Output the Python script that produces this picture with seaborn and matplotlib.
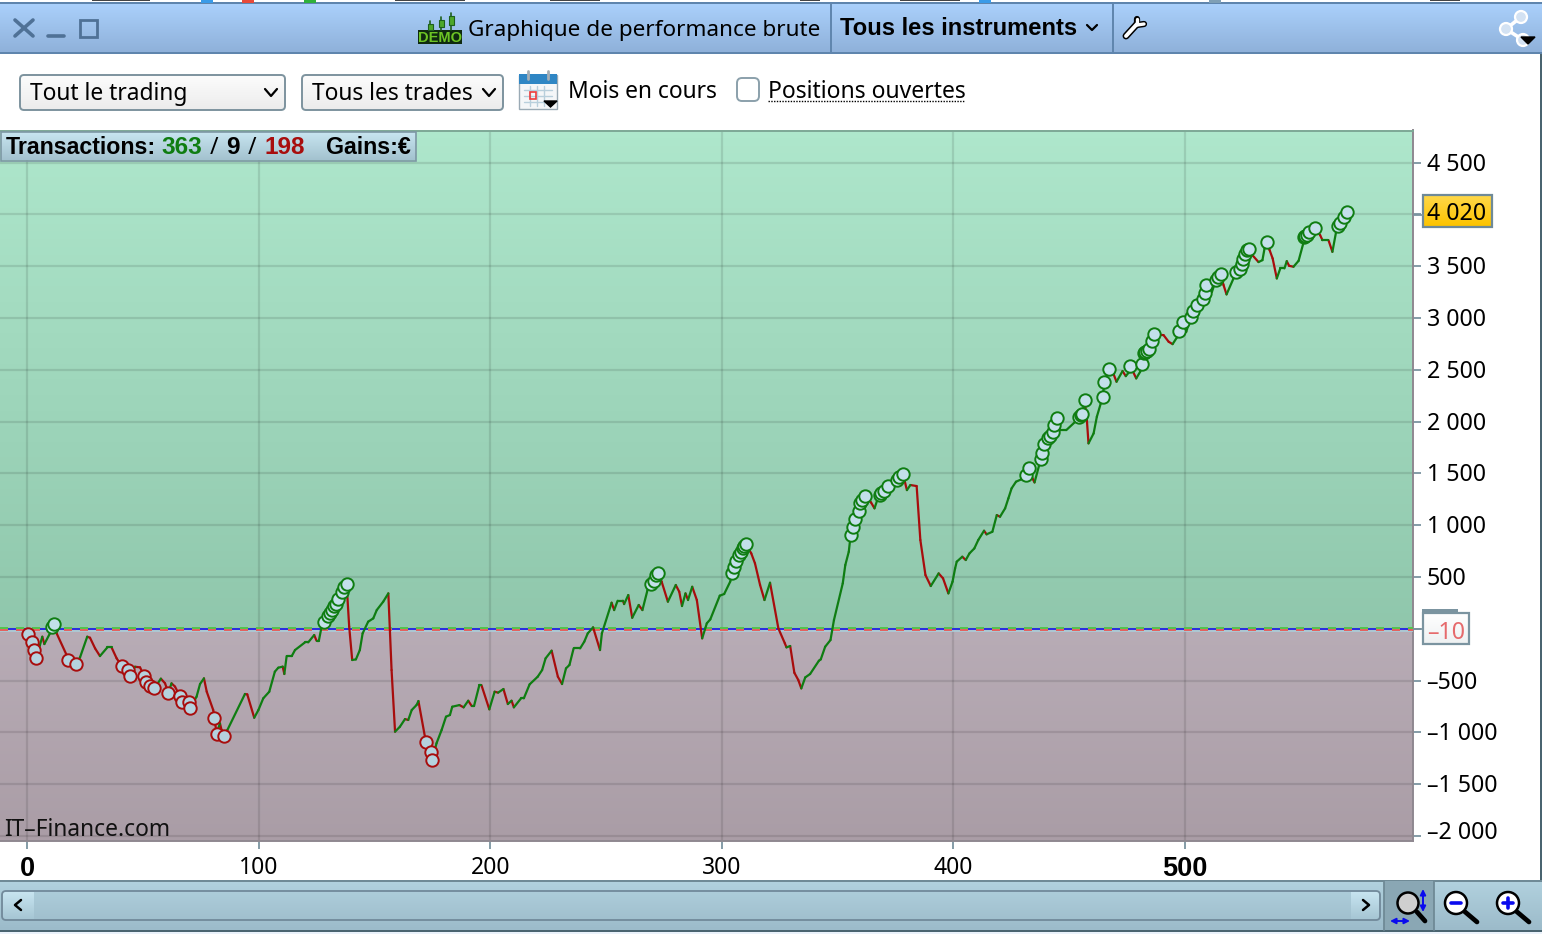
import numpy as np
import pandas as pd
import matplotlib
matplotlib.use("Agg")
import matplotlib.pyplot as plt
import seaborn as sns
from matplotlib.patches import Rectangle, FancyBboxPatch, Circle
from matplotlib.transforms import ScaledTranslation

# courbe de gains
trade_no = [
    0, 0.6, 2.3, 3.2, 4.0, 5.6, 6.6, 7.5, 9.9, 10.6, 11.6, 12.8, 17.1, 17.8, 21.3, 22.9, 26.0, 27.2, 29.4, 31.5,
    34.7, 36.5, 38.7, 41.0, 43.7, 44.6, 46.6, 48.8, 50.6, 51.2, 53.1, 55.0, 57.8, 59.6, 61.0, 62.4, 63.9, 66.0, 66.8, 69.8,
    70.5, 73.2, 74.7, 76.4, 77.6, 80.4, 80.9, 81.9, 83.3, 84.0, 85.2, 86.5, 94.1, 95.1, 98.1, 99.9, 102.0, 104.6, 107.0, 108.5,
    110.4, 111.1, 112.1, 114.3, 115.7, 120.0, 121.4, 124.0, 125.0, 126.0, 127.2, 128.4, 129.8, 130.8, 131.8, 132.7, 133.4, 134.4, 135.8, 136.8,
    138.0, 139.1, 140.4, 142.0, 143.7, 144.9, 147.3, 149.5, 151.0, 153.8, 156.0, 157.4, 158.9, 161.0, 163.2, 164.6, 166.1, 168.2, 169.0, 171.8,
    172.4, 174.3, 175.0, 176.8, 179.0, 180.9, 182.6, 183.6, 186.7, 188.5, 190.5, 192.0, 193.0, 195.3, 196.2, 199.6, 201.9, 203.4, 205.7, 207.6,
    209.2, 210.2, 213.3, 214.5, 217.0, 220.5, 222.4, 223.9, 226.5, 229.2, 231.0, 232.7, 234.2, 236.0, 238.8, 240.6, 242.1, 244.4, 247.4, 248.2,
    252.4, 253.5, 255.0, 257.3, 257.8, 259.6, 261.3, 264.1, 265.7, 267.9, 269.5, 270.5, 271.7, 272.5, 274.0, 276.7, 280.1, 281.6, 282.8, 284.3,
    285.4, 287.2, 289.2, 291.5, 293.5, 295.0, 299.1, 301.0, 303.6, 304.4, 305.2, 305.9, 307.4, 308.2, 309.0, 309.7, 310.5, 312.7, 314.3, 316.5,
    318.4, 320.8, 324.4, 327.2, 327.9, 329.5, 331.3, 333.0, 334.3, 336.0, 338.1, 341.9, 342.7, 344.6, 346.9, 348.4, 352.2, 353.3, 354.8, 355.6,
    356.5, 357.4, 359.1, 359.8, 360.6, 361.7, 364.4, 365.9, 367.1, 368.2, 368.9, 370.0, 371.7, 375.5, 376.5, 378.2, 379.9, 381.4, 384.1, 385.7,
    387.9, 390.2, 393.6, 395.5, 397.8, 399.6, 400.7, 401.4, 403.8, 405.3, 406.9, 409.0, 410.7, 413.2, 414.3, 416.8, 418.7, 420.1, 422.3, 423.7,
    425.1, 427.0, 429.2, 431.4, 432.4, 434.1, 435.0, 437.0, 437.6, 438.3, 439.3, 440.8, 441.5, 442.8, 443.6, 444.5, 446.1, 448.7, 452.6, 454.4,
    455.2, 455.7, 456.6, 457.6, 458.3, 460.5, 461.9, 463.6, 464.4, 465.2, 467.0, 469.1, 470.4, 473.0, 474.4, 475.6, 476.4, 478.9, 480.6, 481.6,
    482.1, 482.8, 483.5, 484.4, 485.8, 486.7, 490.7, 492.9, 494.6, 496.5, 497.2, 498.9, 500.5, 502.5, 503.2, 505.0, 507.7, 508.4, 509.1, 511.6,
    513.3, 514.0, 515.4, 516.6, 517.9, 520.9, 522.1, 523.8, 524.5, 525.2, 526.0, 526.7, 527.4, 529.3, 531.7, 533.4, 534.3, 535.2, 536.5, 537.8,
    539.6, 541.1, 542.9, 543.9, 544.9, 546.8, 549.0, 551.1, 551.2, 551.9, 552.6, 553.7, 556.0, 558.3, 559.3, 561.9, 563.6, 565.2, 565.9, 567.0,
    568.4, 569.8,
]
equity = [
    0, -51, -125, -202, -286, -157, -77, -148, -45, 20, 49, -45, -254, -302, -344, -276, -77, -87, -190, -264,
    -180, -180, -286, -363, -399, -460, -367, -373, -457, -511, -553, -576, -482, -527, -617, -527, -559, -650, -707, -707,
    -769, -656, -534, -479, -608, -785, -865, -1016, -913, -978, -1039, -978, -630, -634, -859, -785, -672, -608, -415, -376,
    -366, -437, -264, -264, -206, -132, -132, -61, -116, -116, 20, 61, 123, 148, 180, 219, 235, 287, 357, 399,
    428, 20, -302, -296, -206, -45, 68, 100, 180, 261, 341, -399, -994, -946, -872, -881, -785, -736, -698, -1042,
    -1097, -1190, -1270, -1106, -978, -849, -833, -753, -737, -759, -695, -746, -746, -544, -544, -778, -608, -617, -582, -727,
    -695, -759, -672, -672, -537, -463, -399, -286, -212, -463, -534, -383, -350, -190, -190, -125, -45, 13, -206, -45,
    251, 180, 270, 270, 238, 325, 106, 229, 180, 373, 428, 460, 518, 541, 454, 261, 422, 357, 219, 341,
    277, 405, 277, -93, 52, 90, 319, 335, 454, 537, 592, 653, 711, 743, 775, 801, 814, 727, 631, 422,
    277, 444, 3, -141, -180, -167, -425, -495, -576, -470, -437, -309, -296, -174, -109, 84, 438, 615, 743, 904,
    985, 1059, 1139, 1210, 1242, 1281, 1219, 1162, 1242, 1290, 1306, 1332, 1377, 1435, 1461, 1493, 1338, 1387, 1377, 856,
    518, 412, 534, 486, 341, 454, 582, 647, 695, 663, 727, 775, 856, 946, 911, 936, 1097, 1081, 1162, 1258,
    1355, 1419, 1441, 1483, 1554, 1451, 1412, 1579, 1641, 1698, 1779, 1837, 1863, 1895, 1965, 2030, 1917, 1917, 1998, 2046,
    2059, 2068, 2204, 2014, 1789, 1885, 2046, 2175, 2239, 2377, 2509, 2458, 2384, 2487, 2438, 2471, 2535, 2416, 2480, 2551,
    2657, 2667, 2683, 2702, 2776, 2841, 2834, 2770, 2747, 2812, 2876, 2956, 2866, 3011, 3069, 3127, 3185, 3239, 3320, 3252,
    3365, 3391, 3420, 3317, 3227, 3381, 3439, 3471, 3519, 3564, 3616, 3654, 3670, 3600, 3539, 3558, 3670, 3728, 3654, 3574,
    3381, 3478, 3478, 3548, 3503, 3494, 3551, 3725, 3783, 3790, 3796, 3825, 3864, 3799, 3751, 3751, 3638, 3831, 3886, 3918,
    3970, 4021,
]

# ronds rouges / verts
lo_no = [0.6, 2.3, 3.2, 4.0, 17.8, 21.3, 41.0, 43.7, 44.6, 50.6, 51.2, 53.1, 55.0, 61.0, 66.0, 66.8, 69.8, 70.5,
         80.9, 81.9, 85.2, 172.4, 174.3, 175.0]
lo_eq = [-51, -125, -202, -286, -302, -344, -363, -399, -460, -457, -511, -553, -576, -617, -650, -707, -707, -769,
         -865, -1016, -1039, -1097, -1190, -1270]
hi_no = [10.6, 11.6, 128.4, 129.8, 130.8, 131.8, 132.7, 133.4, 134.4, 135.8, 136.8, 138.0,
         269.5, 270.5, 271.7, 272.5, 304.4, 305.2, 305.9, 307.4, 308.2, 309.0, 309.7, 310.5,
         355.6, 356.5, 357.4, 359.1, 359.8, 360.6, 361.7, 368.2, 368.9, 370.0, 371.7, 375.5, 376.5, 378.2,
         431.4, 432.4, 437.6, 438.3, 439.3, 440.8, 441.5, 442.8, 443.6, 444.5, 454.4, 455.2, 455.7, 456.6,
         464.4, 465.2, 467.0, 476.4, 481.6, 482.1, 482.8, 483.5, 484.4, 485.8, 486.7, 497.2, 498.9,
         502.5, 503.2, 505.0, 507.7, 508.4, 509.1, 513.3, 514.0, 515.4, 522.1, 523.8, 524.5, 525.2, 526.0, 526.7, 527.4,
         535.2, 551.2, 551.9, 552.6, 553.7, 556.0, 565.9, 567.0, 568.4, 569.8]
hi_eq = [20, 49, 61, 123, 148, 180, 219, 235, 287, 357, 399, 428,
         428, 460, 518, 541, 537, 592, 653, 711, 743, 775, 801, 814,
         904, 985, 1059, 1139, 1210, 1242, 1281, 1290, 1306, 1332, 1377, 1435, 1461, 1493,
         1483, 1554, 1641, 1698, 1779, 1837, 1863, 1895, 1965, 2030, 2046, 2059, 2068, 2204,
         2239, 2377, 2509, 2535, 2551, 2657, 2667, 2683, 2702, 2776, 2841, 2876, 2956,
         3011, 3069, 3127, 3185, 3239, 3320, 3365, 3391, 3420, 3439, 3471, 3519, 3564, 3616, 3654, 3670,
         3728, 3783, 3790, 3796, 3825, 3864, 3886, 3918, 3970, 4021]

x_ticks = [0, 100, 200, 300, 400, 500]
y_ticks = [4500, 4000, 3500, 3000, 2500, 2000, 1500, 1000, 500, 0, -500, -1000, -1500, -2000]
y_labels = ["4 500", "", "3 500", "3 000", "2 500", "2 000", "1 500", "1 000", "500", "",
            "–500", "–1 000", "–1 500", "–2 000"]
last_gain = "4 020"
start_gain = "–10"

W, H = 1542, 934
GREEN = "#0f7d12"
RED = "#a80d0d"
FONT = "Noto Sans"
BOLD = "Liberation Sans"
FS = 16.5

sns.set_theme(style="white")
plt.rcParams["font.family"] = [FONT, "DejaVu Sans"]

fig = plt.figure(figsize=(W / 100, H / 100), dpi=100, facecolor="white")

# --- graphique ---
ax = fig.add_axes([0, 1 - 841 / H, 1413 / W, (841 - 130.5) / H])
xlim = (-11.66, 598.4)
ylim = (-2049, 4809)


def grad(c1, c2, n=64):
    a = np.array(matplotlib.colors.to_rgb(c1))
    b = np.array(matplotlib.colors.to_rgb(c2))
    return np.linspace(a, b, n)[:, None, :]


ax.imshow(grad("#aee7cc", "#90c7ac"), extent=(xlim[0], xlim[1], 0, ylim[1]), aspect="auto", zorder=0)
ax.imshow(grad("#b8acb6", "#aa9da6"), extent=(xlim[0], xlim[1], ylim[0], 0), aspect="auto", zorder=0)

segments = []
for i in range(len(trade_no) - 1):
    sens = "up" if equity[i + 1] >= equity[i] else "down"
    segments.append((i, sens, trade_no[i], equity[i]))
    segments.append((i, sens, trade_no[i + 1], equity[i + 1]))
df = pd.DataFrame(segments, columns=["segment", "sens", "trade", "gain"])

sns.lineplot(data=df, x="trade", y="gain", hue="sens", units="segment", estimator=None, sort=False,
             palette={"up": GREEN, "down": RED}, linewidth=1.6, legend=False, ax=ax, zorder=4)

# ligne de depart : tirets bleus, verts et rouges alternes
ax.axhline(-24, color="#a9cfdc", lw=1.1, zorder=3)
ax.axhline(-3, color="#2a2ee0", lw=1.44, ls=(4, (4, 4)), zorder=3)
ax.axhline(7, color="#55c24d", lw=1.44, ls=(0, (4, 4)), zorder=3)
ax.axhline(-13, color="#e2615f", lw=1.44, ls=(0, (4, 4)), zorder=3)

sns.scatterplot(x=lo_no, y=lo_eq, s=80, color="#b5d2de", edgecolor=RED, linewidth=1.4, ax=ax, zorder=5, legend=False)
sns.scatterplot(x=hi_no, y=hi_eq, s=80, color="#c3e0ea", edgecolor=GREEN, linewidth=1.4, ax=ax, zorder=5, legend=False)

ax.set_xlim(xlim)
ax.set_ylim(ylim)
ax.set_xlabel("")
ax.set_ylabel("")
ax.set_xticks(x_ticks)
ax.set_xticklabels([str(v) for v in x_ticks], fontsize=FS)
ax.yaxis.tick_right()
ax.set_yticks(y_ticks)
ax.set_yticklabels(y_labels, fontsize=16.7)
ax.tick_params(axis="both", length=5.5, width=1.3, color="#7b94a0", pad=4.3, labelcolor="black",
               bottom=True, right=True, left=False)
ax.tick_params(axis="x", pad=5.6)
for lbl in ax.get_xticklabels():
    if lbl.get_text() in ("0", "500"):
        lbl.set_fontfamily(BOLD)
        lbl.set_fontweight("bold")
        lbl.set_fontsize(19.5)
# etiquettes un peu remontees, la derniere surtout
for lbl in ax.get_yticklabels():
    up = 6 if lbl.get_text() == "–2 000" else 1
    lbl.set_transform(lbl.get_transform() + ScaledTranslation(0, up / 100, fig.dpi_scale_trans))
ax.grid(True, color="black", alpha=0.105, lw=1.6)
ax.set_axisbelow(True)
for name, sp in ax.spines.items():
    sp.set_visible(name in ("top", "right", "bottom"))
    sp.set_linewidth(1.4)
    sp.set_color("#7da896" if name == "top" else "#8f8890")

ax.text(4 / 1413, 10.5 / 710.5, "IT–Finance.com", transform=ax.transAxes, fontsize=16.4, color="#111111",
        ha="left", va="center", zorder=6)

# --- habillage de la fenetre, en coordonnees pixels ---
ui = fig.add_axes([0, 0, 1, 1], zorder=10)
ui.set_xlim(0, W)
ui.set_ylim(H, 0)
ui.axis("off")
ui.patch.set_alpha(0)


def band(x0, y0, x1, y1, c1, c2):
    ui.imshow(grad(c1, c2), extent=(x0, x1, y1, y0), aspect="auto", zorder=1)


def seg(xs, ys, c="black", lw=1.5, z=4):
    ui.plot(xs, ys, color=c, lw=lw, solid_capstyle="round", solid_joinstyle="round", zorder=z)


def box(x0, y0, x1, y1, fc, ec, lw=1.4, r=4, z=3):
    ui.add_patch(FancyBboxPatch((x0 + r, y0 + r), x1 - x0 - 2 * r, y1 - y0 - 2 * r,
                                boxstyle=f"round,pad={r},rounding_size={r}", fc=fc, ec=ec, lw=lw, zorder=z))


def txt(x, y, s, size=FS, color="black"):
    ui.text(x, y + 4.5, s, fontsize=size, color=color, ha="left", va="center", zorder=5)


def btxt(x, y, s, size=17.1, color="black"):
    ui.text(x, y, s, fontsize=size, color=color, fontweight="bold", family=BOLD, ha="left", va="center", zorder=5)


# bandeau du haut
band(0, 4, W, 52, "#aad0fb", "#8fb1da")
ui.add_patch(Rectangle((0, 2), W, 2, fc="#5f85ad", ec="none", zorder=2))
ui.add_patch(Rectangle((0, 51.5), W, 2, fc="#5f85ad", ec="none", zorder=2))
for xp, col in [(207, "#3a9be8"), (248, "#e84a3a"), (310, "#2fb13a"), (985, "#3a9be8"), (1215, "#7f9fb5")]:
    ui.add_patch(Rectangle((xp - 6, 0), 12, 2.5, fc=col, ec="none", zorder=2))
for x0, x1 in [(92, 150), (395, 465), (550, 600), (800, 820), (900, 960), (1430, 1460)]:
    ui.add_patch(Rectangle((x0, 0), x1 - x0, 1.2, fc="#444444", ec="none", zorder=2))
for xp in (831, 1113):
    seg([xp, xp], [4, 52], "#5f85ad", 1.4)

seg([15, 33], [20, 36], "#4f7196", 2.6)
seg([15, 33], [36, 20], "#4f7196", 2.6)
seg([48, 64], [36, 36], "#4f7196", 2.6)
ui.add_patch(Rectangle((80, 20), 17, 17, fc="none", ec="#4f7196", lw=2, zorder=4))

# logo DEMO
ui.add_patch(Rectangle((418, 30), 44, 14, fc="#0f2a0f", ec="none", zorder=4))
ui.text(440, 37.5, "DEMO", fontsize=10.5, color="#6cc424", fontweight="bold", family=BOLD, ha="center", va="center", zorder=5)
for xp, y0, y1, by0, by1 in [(430, 21, 30, 24, 30), (441, 17, 30, 20, 27), (451, 13, 30, 16, 25)]:
    seg([xp, xp], [y0, y1], "#1d5f1d", 1.2)
    ui.add_patch(Rectangle((xp - 2.5, by0), 5, by1 - by0, fc="#4da82a", ec="#1d5f1d", lw=0.8, zorder=5))

txt(468, 26, "Graphique de performance brute", 16.2)
btxt(840, 28.5, "Tous les instruments")
seg([1087, 1092, 1097], [25, 30, 25], "black", 1.6)

# cle
seg([1126, 1137], [36, 24], "black", 5)
seg([1137, 1137], [24, 19], "black", 4.5)
seg([1137, 1144], [25, 24], "black", 4.5)
seg([1126, 1137], [36, 24], "white", 2.8, z=5)
seg([1137, 1137], [24, 19], "white", 2.4, z=5)
seg([1137, 1144], [25, 24], "white", 2.4, z=5)

# partage
seg([1521, 1506, 1523], [17, 29, 40], "white", 2.6)
for cx, cy in [(1521, 17), (1506, 29), (1523, 40)]:
    ui.add_patch(Circle((cx, cy), 6, fc="#d3e2f3", ec="white", lw=1.6, zorder=5))
ui.fill([1521, 1535, 1528], [37, 37, 44], color="black", zorder=6)

# ligne de controles
for x0, x1, label in [(20, 285, "Tout le trading"), (302, 503, "Tous les trades")]:
    band(x0 + 1, 76, x1 - 1, 109, "#fcfcfc", "#ececec")
    box(x0, 75, x1, 110, "none", "#7d939e", lw=1.4, z=4)
    txt(x0 + 10, 89, label, 16.4)
    seg([x1 - 20, x1 - 14, x1 - 8], [89, 96, 89], "black", 1.6)

# calendrier
ui.add_patch(Rectangle((519, 75), 38, 34, fc="#f4f6f8", ec="#9aaab5", lw=1, zorder=3))
ui.add_patch(Rectangle((519, 74), 38, 10, fc="#2f86c4", ec="none", zorder=4))
for xp in (528, 548):
    seg([xp, xp], [71, 79], "#a5adb3", 2)
for yp in (90, 96, 102):
    seg([524, 552], [yp, yp], "#b8cfdc", 1)
for xp in (530, 537, 544):
    seg([xp, xp], [86, 106], "#b8cfdc", 1)
ui.add_patch(Rectangle((530, 92), 6, 7, fc="none", ec="#ee3b3b", lw=1.2, zorder=5))
ui.fill([544, 557, 550.5], [101, 101, 107], color="black", zorder=6)

txt(568, 87, "Mois en cours", 16.4)
box(737, 78, 759, 101, "white", "#8ba0ab", lw=1.4, r=5)
txt(768, 87.5, "Positions ouvertes")
ui.plot([768, 965], [101, 101], color="black", lw=1, ls=(0, (1, 1)), zorder=5)

# bandeau Transactions
band(1, 132, 416, 160, "#c8e5f0", "#a3c2cf")
ui.add_patch(Rectangle((1, 132), 415, 29, fc="none", ec="#7d97a4", lw=1.2, zorder=3))
btxt(6, 147.5, "Transactions:", 16.7)
btxt(161, 147.5, "363", 17.6, GREEN)
txt(210, 143, "/")
btxt(226, 147.5, "9", 17.6)
txt(248, 143, "/")
btxt(265, 147.5, "198", 17.6, RED)
btxt(326, 147.5, "Gains:", 16.7)
btxt(398, 147.5, "€", 16.7)

# valeurs encadrees
band(1423, 195, 1492, 226, "#ffd84a", "#fdc400")
ui.add_patch(Rectangle((1423, 194.5), 69, 32, fc="none", ec="#6f8a98", lw=1.6, zorder=4))
txt(1427, 209.5, last_gain, 16.7)
seg([1414, 1423], [215, 215], "#7b94a0", 1.3)
ui.add_patch(Rectangle((1422, 609), 36, 4, fc="#7b94a0", ec="none", zorder=3))
band(1423, 613, 1469, 644, "#ffffff", "#eef1f2")
ui.add_patch(Rectangle((1423, 612.5), 46, 31.5, fc="none", ec="#7b94a0", lw=1.6, zorder=4))
txt(1427, 628.5, start_gain, 16.7, "#e66a6c")
seg([1414, 1423], [629, 629], "#7b94a0", 1.3)

# bas de fenetre
band(0, 881, W, 930, "#b1d1de", "#9cbbca")
ui.add_patch(Rectangle((0, 880), W, 1.8, fc="#6f8a96", ec="none", zorder=3))
ui.add_patch(Rectangle((0, 929.5), W, 2, fc="#4a6470", ec="none", zorder=3))
ui.add_patch(Rectangle((0, 931.5), W, 3, fc="#eaf2fb", ec="none", zorder=3))
ui.add_patch(Rectangle((1539.5, 54), 2.5, 826, fc="#4a6470", ec="none", zorder=3))
box(2, 891, 1380, 920, "none", "#71899a", lw=1.3)
band(3, 892, 34, 919, "#c7e4f0", "#a6c6d4")
band(1351, 892, 1379, 919, "#c7e4f0", "#a6c6d4")
seg([21, 15, 21], [900, 905, 910], "black", 1.8)
seg([1363, 1369, 1363], [900, 905, 910], "black", 1.8)
ui.add_patch(Rectangle((1384, 881), 50, 49, fc="#8aa7b4", ec="none", zorder=3))
for xp in (1384, 1434):
    seg([xp, xp], [881, 930], "#6f8a96", 1.3)

# loupes
seg([1417, 1425], [912, 921], "black", 3.4)
ui.add_patch(Circle((1408, 903), 10.5, fc="#cfcfcf", ec="black", lw=1.8, zorder=5))
for start, end in [((1423, 889), (1423, 912)), ((1390, 921), (1410, 921))]:
    ui.annotate("", xy=start, xytext=end, zorder=6,
                arrowprops=dict(arrowstyle="<|-|>", color="#0a0aee", lw=1.4, mutation_scale=8, shrinkA=0, shrinkB=0))
for cx, sign in [(1456, "-"), (1508, "+")]:
    seg([cx + 8, cx + 21], [911, 922], "black", 3.4)
    ui.add_patch(Circle((cx, 903), 11, fc="white", ec="black", lw=1.8, zorder=5))
    seg([cx - 5, cx + 5], [903, 903], "#0a0aee", 2.6, z=6)
    if sign == "+":
        seg([cx, cx], [898, 908], "#0a0aee", 2.6, z=6)

ui.set_xlim(0, W)
ui.set_ylim(H, 0)

fig.savefig("out.png", dpi=100)
